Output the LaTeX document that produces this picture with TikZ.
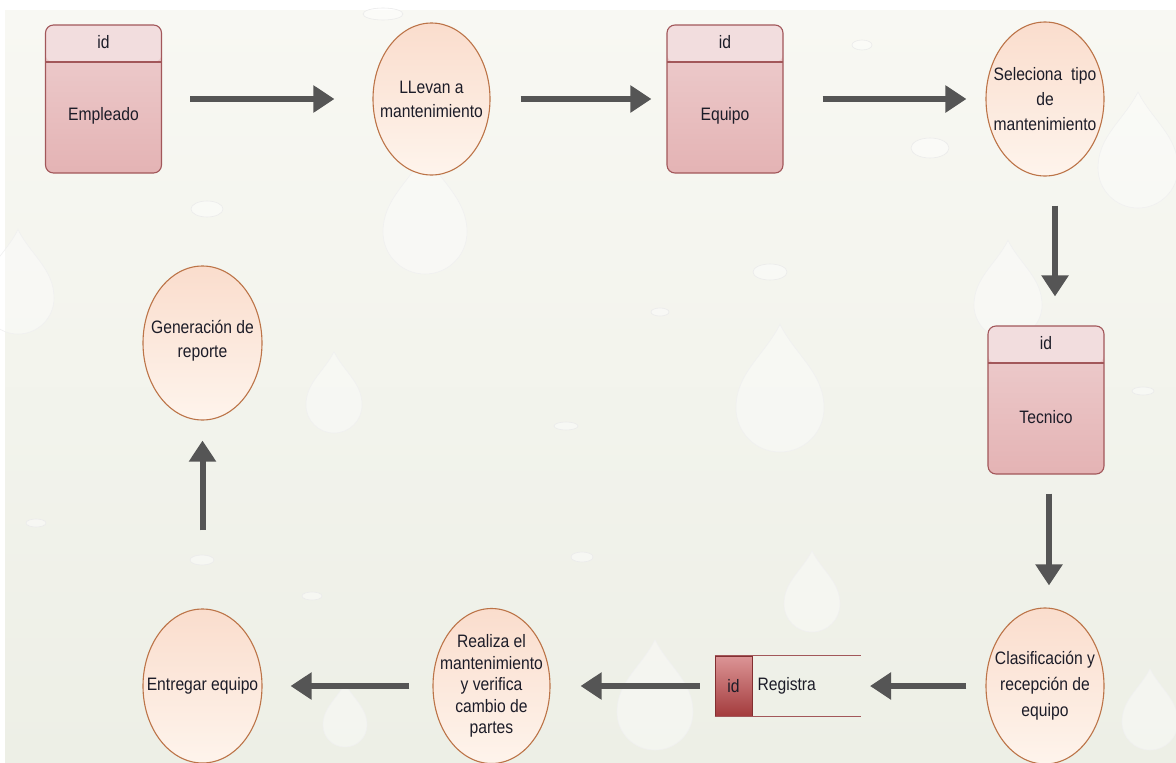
\documentclass[tikz,border=0pt]{standalone}
\usepackage{fontspec}
\setmainfont[FakeStretch=0.87]{Liberation Sans}
\usetikzlibrary{shapes.geometric,arrows.meta,calc}

\definecolor{bgtop}{HTML}{F8F8F3}
\definecolor{bgbot}{HTML}{EDEFE6}
\definecolor{entborder}{HTML}{A2575A}
\definecolor{enthead}{HTML}{F2DDDE}
\definecolor{enttop}{HTML}{EECFD0}
\definecolor{entbot}{HTML}{E4B3B4}
\definecolor{procborder}{HTML}{BC7448}
\definecolor{proctop}{HTML}{FADDCD}
\definecolor{procbot}{HTML}{FEF4EC}
\definecolor{flowgray}{HTML}{555555}
\definecolor{inkcol}{HTML}{1C1C28}
\definecolor{storetop}{HTML}{DC9596}
\definecolor{storebot}{HTML}{A33B3D}

% a faint teardrop used as background texture
\newcommand\raindrop[3]{%
  \fill[white, fill opacity=0.38, draw=black!6, line width=0.6pt]
    (#1,#2-1.9*#3) .. controls (#1+0.35*#3,#2-1.2*#3) and (#1+#3,#2-0.8*#3) .. (#1+#3,#2)
    arc (0:180:#3)
    .. controls (#1-#3,#2-0.8*#3) and (#1-0.35*#3,#2-1.2*#3) .. cycle;}
\newcommand\flatdrop[4]{%
  \fill[white, fill opacity=0.45, draw=black!8, line width=0.6pt] (#1,#2) ellipse [x radius=#3, y radius=#4];}

\tikzset{
  txt/.style={text=inkcol, font=\fontsize{18}{24}\selectfont, align=center, inner sep=0pt},
  entity/.style={draw=entborder, line width=1.1pt, rounded corners=8pt,
    top color=enttop, bottom color=entbot, minimum width=116pt, minimum height=148pt,
    path picture={
      \fill[enthead] (path picture bounding box.north west) rectangle
        ([yshift=-37pt]path picture bounding box.north east);
      \draw[entborder, line width=1.4pt] ([yshift=-37pt]path picture bounding box.north west) --
        ([yshift=-37pt]path picture bounding box.north east);}},
  process/.style={ellipse, draw=procborder, line width=1.1pt, top color=proctop,
    bottom color=procbot, minimum width=117pt, minimum height=152pt, inner sep=0pt},
  storeid/.style={draw=storebot!80!black, line width=0.8pt, top color=storetop,
    bottom color=storebot, minimum width=37pt, minimum height=60pt, inner sep=0pt},
  storeline/.style={draw=entborder, line width=1.2pt},
  flow/.style={draw=flowgray, line width=6pt,
    -{Triangle[length=21pt, width=26pt]}},
}

\begin{document}
\begin{tikzpicture}[x=1pt, y=-1pt]
  % canvas and backdrop
  \useasboundingbox (0,0) rectangle (1176,763);
  \fill[white] (0,0) rectangle (1176,763);
  \shade[top color=bgtop, bottom color=bgbot] (5,10) rectangle (1176,763);

  % background drops
  \flatdrop{207}{209}{16}{8}
  \flatdrop{770}{272}{17}{8}
  \flatdrop{930}{148}{19}{10}
  \flatdrop{862}{45}{10}{5}
  \flatdrop{1143}{391}{11}{4}
  \flatdrop{660}{312}{9}{4}
  \flatdrop{566}{426}{12}{4}
  \flatdrop{582}{557}{11}{5}
  \flatdrop{312}{596}{10}{4}
  \flatdrop{36}{523}{10}{4}
  \flatdrop{202}{560}{12}{5}
  \flatdrop{383}{14}{20}{6}
  \raindrop{425}{232}{42}
  \raindrop{1138}{168}{40}
  \raindrop{18}{298}{36}
  \raindrop{334}{405}{28}
  \raindrop{780}{408}{44}
  \raindrop{1008}{305}{34}
  \raindrop{812}{604}{28}
  \raindrop{655}{712}{38}
  \raindrop{1150}{722}{28}
  \raindrop{345}{725}{22}

  % top row
  \node[entity] (emp) at (103.5,99) {};
  \node[txt] (empid) at ($(emp.north)+(0,18)$) {id};
  \node[txt] (emptxt) at ($(emp.center)+(0,17)$) {Empleado};

  \node[process] (llevan) at (431.5,99) {};
  \node[txt] (llevantxt) at (llevan) {LLevan a\\mantenimiento};

  \node[entity] (equipo) at (725,99) {};
  \node[txt] (equipoid) at ($(equipo.north)+(0,18)$) {id};
  \node[txt] (equipotxt) at ($(equipo.center)+(0,17)$) {Equipo};

  \node[process, minimum width=118pt, minimum height=154pt] (selec) at (1045,99) {};
  \node[txt, font=\fontsize{18}{25}\selectfont] (selectxt) at (selec) {Seleciona\ \ tipo\\de\\mantenimiento};

  % right column
  \node[entity] (tecnico) at (1046,400) {};
  \node[txt] (tecnicoid) at ($(tecnico.north)+(0,18)$) {id};
  \node[txt] (tecnicotxt) at ($(tecnico.center)+(0,17)$) {Tecnico};

  % bottom row
  \node[process, minimum width=118pt, minimum height=156pt] (clasif) at (1045,686) {};
  \node[txt, font=\fontsize{18}{26}\selectfont] (clasiftxt) at (clasif) {Clasificación y\\recepción de\\equipo};

  \node[storeid] (regid) at (733.5,686) {};
  \node[txt] (regidtxt) at (regid) {id};
  \coordinate (regend) at (861,686);
  \draw[storeline] (regid.north west) -- (regid.north west -| regend);
  \draw[storeline] (regid.south west) -- (regid.south west -| regend);
  \node[txt, anchor=west] (regtxt) at ($(regid.east)+(5,0)$) {Registra};

  \node[process, minimum height=155pt] (realiza) at (491.5,686) {};
  \node[txt, font=\fontsize{18}{21.5}\selectfont] (realizatxt) at (realiza)
    {Realiza el\\mantenimiento\\y verifica\\cambio de\\partes};

  \node[process, minimum width=119pt, minimum height=154pt] (entregar) at (202.5,686) {};
  \node[txt] (entregartxt) at (entregar) {Entregar equipo};

  % left column
  \node[process, minimum width=119pt, minimum height=154pt] (genera) at (202.5,343) {};
  \node[txt] (generatxt) at ($(genera.center)+(0,-2)$) {Generación de\\reporte};

  % flow arrows
  \draw[flow] ($(emp.east)+(28,0)$) -- ($(llevan.west)+(-38,0)$);
  \draw[flow] ($(llevan.east)+(30,0)$) -- ($(equipo.west)+(-15,0)$);
  \draw[flow] ($(equipo.east)+(39,0)$) -- ($(selec.west)+(-19,0)$);
  \draw[flow] ($(selec.south)+(10,29)$) -- ($(tecnico.north)+(9,-29)$);
  \draw[flow] ($(tecnico.south)+(3,19)$) -- ($(clasif.north)+(4,-22)$);
  \draw[flow] ($(clasif.west)+(-19,0)$) -- ($(regend)+(9,0)$);
  \draw[flow] ($(regid.west)+(-15,0)$) -- ($(realiza.east)+(30,0)$);
  \draw[flow] ($(realiza.west)+(-23,0)$) -- ($(entregar.east)+(28,0)$);
  \draw[flow] ($(entregar.north)+(0,-78)$) -- ($(genera.south)+(0,20)$);
\end{tikzpicture}
\end{document}
